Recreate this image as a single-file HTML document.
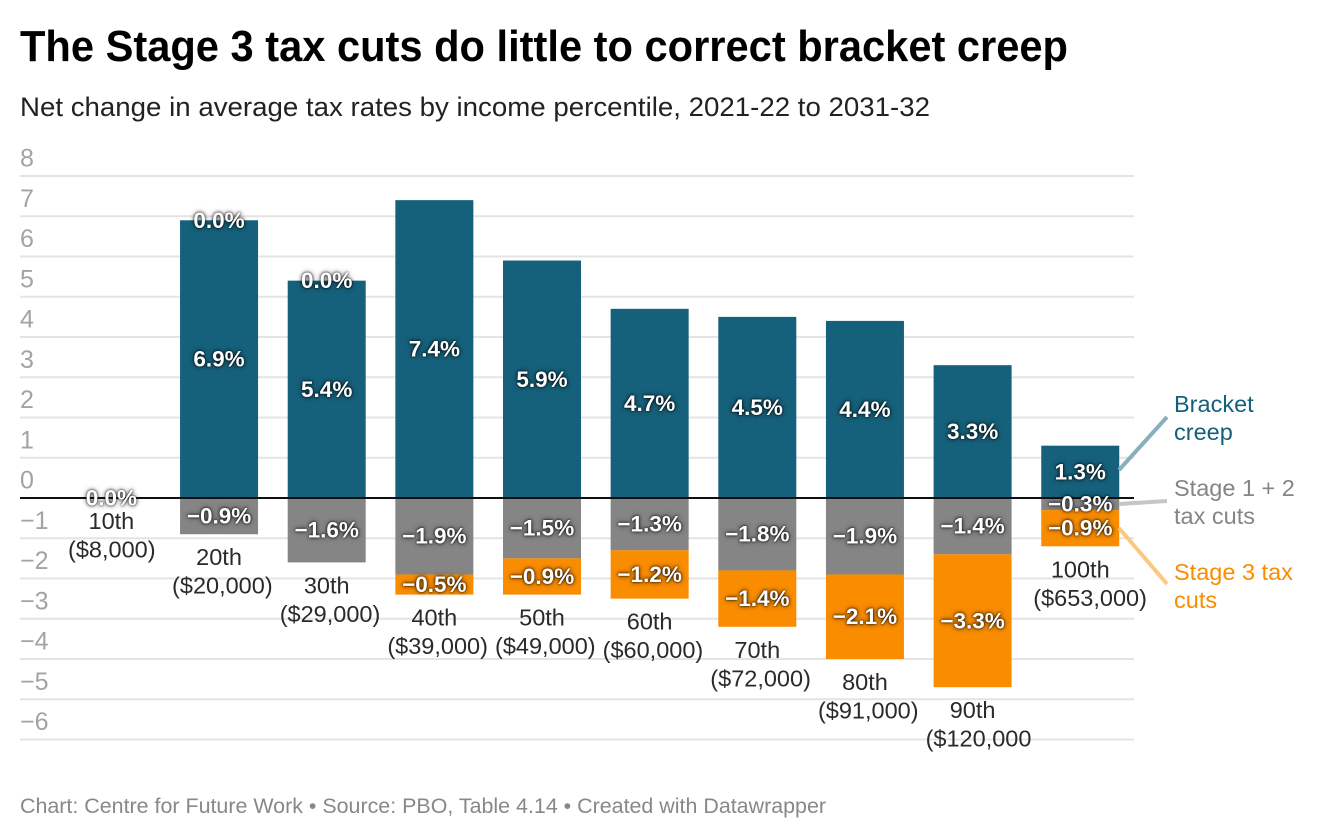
<!DOCTYPE html>
<html>
<head>
<meta charset="utf-8">
<style>
html,body{margin:0;padding:0;background:#fff;}
body{width:1320px;height:840px;overflow:hidden;}
svg{display:block;font-family:"Liberation Sans",sans-serif;}
</style>
</head>
<body>
<svg id="chart" width="1320" height="840" viewBox="0 0 1320 840" xmlns="http://www.w3.org/2000/svg">
  <text x="20" y="61" font-size="44" font-weight="700" fill="#000" textLength="1048" lengthAdjust="spacingAndGlyphs">The Stage 3 tax cuts do little to correct bracket creep</text>
  <text x="20" y="116" font-size="27" fill="#222" textLength="910" lengthAdjust="spacingAndGlyphs">Net change in average tax rates by income percentile, 2021-22 to 2031-32</text>
  <g id="grid"></g>
  <g id="bars"></g>
  <line id="zero" x1="20" x2="1134" stroke="#111" stroke-width="2"></line>
  <g id="cats"></g>
  <g id="values"></g>
  <g>
    <line x1="1119" y1="470" x2="1167" y2="417" stroke="#8aafbc" stroke-width="4"></line>
    <line x1="1119" y1="504" x2="1167" y2="501" stroke="#c6c6c6" stroke-width="4"></line>
    <line x1="1119" y1="528" x2="1167" y2="584" stroke="#fcc880" stroke-width="4"></line>
    <text font-size="23.5" fill="#15607a"><tspan x="1174" y="412">Bracket</tspan><tspan x="1174" y="440">creep</tspan></text>
    <text font-size="23.5" fill="#858585"><tspan x="1174" y="496">Stage 1 + 2</tspan><tspan x="1174" y="524">tax cuts</tspan></text>
    <text font-size="23.5" fill="#fa8c00"><tspan x="1174" y="580">Stage 3 tax</tspan><tspan x="1174" y="608">cuts</tspan></text>
  </g>
  <text x="20" y="813" font-size="21" fill="#888" textLength="806" lengthAdjust="spacingAndGlyphs">Chart: Centre for Future Work • Source: PBO, Table 4.14 • Created with Datawrapper</text>
</svg>
<script>
const percentiles = ["10th","20th","30th","40th","50th","60th","70th","80th","90th","100th"];
const incomes = ["($8,000)","($20,000)","($29,000)","($39,000)","($49,000)","($60,000)","($72,000)","($91,000)","($120,000","($653,000)"];
const bracketCreep = [0,6.9,5.4,7.4,5.9,4.7,4.5,4.4,3.3,1.3];
const stage12 = [0,-0.9,-1.6,-1.9,-1.5,-1.3,-1.8,-1.9,-1.4,-0.3];
const stage3 = [0,0,0,-0.5,-0.9,-1.2,-1.4,-2.1,-3.3,-0.9];
const yTicks = [8,7,6,5,4,3,2,1,0,-1,-2,-3,-4,-5,-6];

const NS = "http://www.w3.org/2000/svg";
const y = v => 498 - v * 40.25;
const x = i => 111.4 + i * 107.65;
const barW = 78;
function mk(tag, parent, attrs, text){
  const e = document.createElementNS(NS, tag);
  for (const k in attrs) e.setAttribute(k, attrs[k]);
  if (text !== undefined) e.textContent = text;
  parent.appendChild(e);
  return e;
}
const fmt = v => (v < 0 ? "\u2212" : "") + Math.abs(v).toFixed(1) + "%";
document.getElementById("zero").setAttribute("y1", y(0));
document.getElementById("zero").setAttribute("y2", y(0));

const grid = document.getElementById("grid");
yTicks.forEach(t => {
  if (t !== 0) {
    const g = mk("line", grid, {x1:20, x2:1134, y1:y(t), y2:y(t), stroke:"#e4e4e4", "stroke-width":2});
    
    
  }
  const l = mk("text", grid, {x:20, y:y(t)-9.5, "font-size":25, fill:"#a3a3a3"}, (t < 0 ? "\u2212" : "") + Math.abs(t));
  
  
});

const bars = document.getElementById("bars");
const values = document.getElementById("values");
const cats = document.getElementById("cats");
function seg(i, from, to, color, name){
  if (from === to) return;
  const r = mk("rect", bars, {x:x(i)-barW/2, y:Math.min(y(from),y(to)), width:barW, height:Math.abs(y(to)-y(from)), fill:color});
  
  
}
function val(i, yc, v){
  const t = mk("text", values, {x:x(i), y:yc+7.5, "text-anchor":"middle", "font-size":22.5, "font-weight":700, fill:"#fff", style:"filter:drop-shadow(0 0 1px rgba(0,0,0,.9)) drop-shadow(0 0 2.5px rgba(0,0,0,.6))"}, fmt(v));
  
  
}
percentiles.forEach((p, i) => {
  const c = bracketCreep[i], s = stage12[i], o = stage3[i];
  seg(i, 0, c, "#15607a", "bar-bracket-creep");
  seg(i, 0, s, "#858585", "bar-stage-1-2");
  seg(i, s, s + o, "#fa8c00", "bar-stage-3");
  if (c !== 0) val(i, (y(0) + y(c)) / 2, c);
  if (s !== 0) val(i, (y(0) + y(s)) / 2, s);
  if (o !== 0) val(i, (y(s) + y(s + o)) / 2, o);
  else val(i, y(c), o);
  const base = y(s + o) + 31;
  const a = mk("text", cats, {x:x(i), y:base, "text-anchor":"middle", "font-size":23.5, fill:"#2a2a2a"}, p);
  
  
  const indent = incomes[i].length < 9 ? 43.4 : 47;
  const b = mk("text", cats, {x:x(i)-indent, y:base+28.5, "font-size":23.5, fill:"#2a2a2a"}, incomes[i]);
  
  
});
</script>
</body>
</html>
